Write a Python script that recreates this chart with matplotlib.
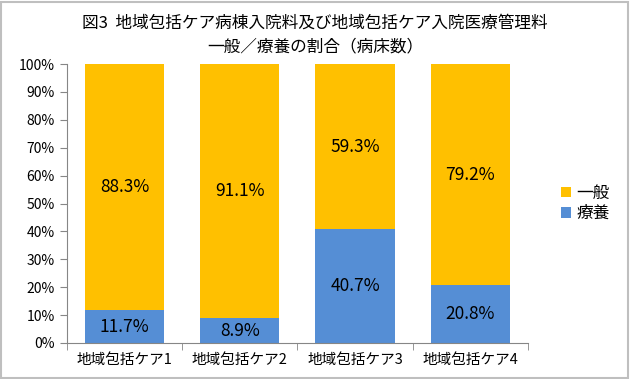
import matplotlib.pyplot as plt
from matplotlib.patches import Rectangle

plt.rcParams['font.family'] = ['Noto Sans CJK JP', 'DejaVu Sans']

categories = ['地域包括ケア1', '地域包括ケア2', '地域包括ケア3', '地域包括ケア4']
ryoyo = [11.7, 8.9, 40.7, 20.8]
ippan = [88.3, 91.1, 59.3, 79.2]

YELLOW = '#FFC000'
BLUE = '#558ED5'

fig = plt.figure(figsize=(6.3, 3.79), dpi=100)
ax = fig.add_axes([0.106, 0.095, 0.732, 0.736])

x = range(len(categories))
ax.bar(x, ryoyo, width=0.69, color=BLUE, label='療養')
ax.bar(x, ippan, width=0.69, bottom=ryoyo, color=YELLOW, label='一般')

for i in x:
    ax.text(i, ryoyo[i] / 2, f'{ryoyo[i]:.1f}%', ha='center', va='center', fontsize=12.5)
    ax.text(i, ryoyo[i] + ippan[i] / 2, f'{ippan[i]:.1f}%', ha='center', va='center', fontsize=12.5)

ax.set_xlim(-0.5, len(categories) - 0.5)
ax.set_ylim(0, 100)
ax.set_yticks(range(0, 101, 10))
ax.set_yticklabels([f'{v}%' for v in range(0, 101, 10)], fontsize=10)
ax.set_xticks(list(x))
ax.set_xticklabels(categories, fontsize=10.5)
ax.tick_params(axis='x', length=0, pad=7)
ax.set_xticks([i - 0.5 for i in range(len(categories) + 1)], minor=True)
ax.tick_params(axis='x', which='minor', length=5, color='#868686')
ax.tick_params(axis='y', length=5, color='#868686')
for side in ['top', 'right']:
    ax.spines[side].set_visible(False)
for side in ['left', 'bottom']:
    ax.spines[side].set_color('#868686')

handles, labels = ax.get_legend_handles_labels()
ax.legend(handles[::-1], labels[::-1], loc='center left', bbox_to_anchor=(1.04, 0.5),
          frameon=False, fontsize=12, handlelength=0.6, handleheight=0.6,
          handletextpad=0.3, labelspacing=0.2)

fig.text(0.5, 0.94, '図3  地域包括ケア病棟入院料及び地域包括ケア入院医療管理料', ha='center',
         va='center', fontsize=12)
fig.text(0.5, 0.877, '一般／療養の割合（病床数）', ha='center', va='center', fontsize=12)

fig.patches.append(Rectangle((0.002, 0.003), 0.995, 0.993, transform=fig.transFigure,
                             fill=False, edgecolor='#BFBFBF', linewidth=1.5))

fig.savefig('out.png', dpi=100)
